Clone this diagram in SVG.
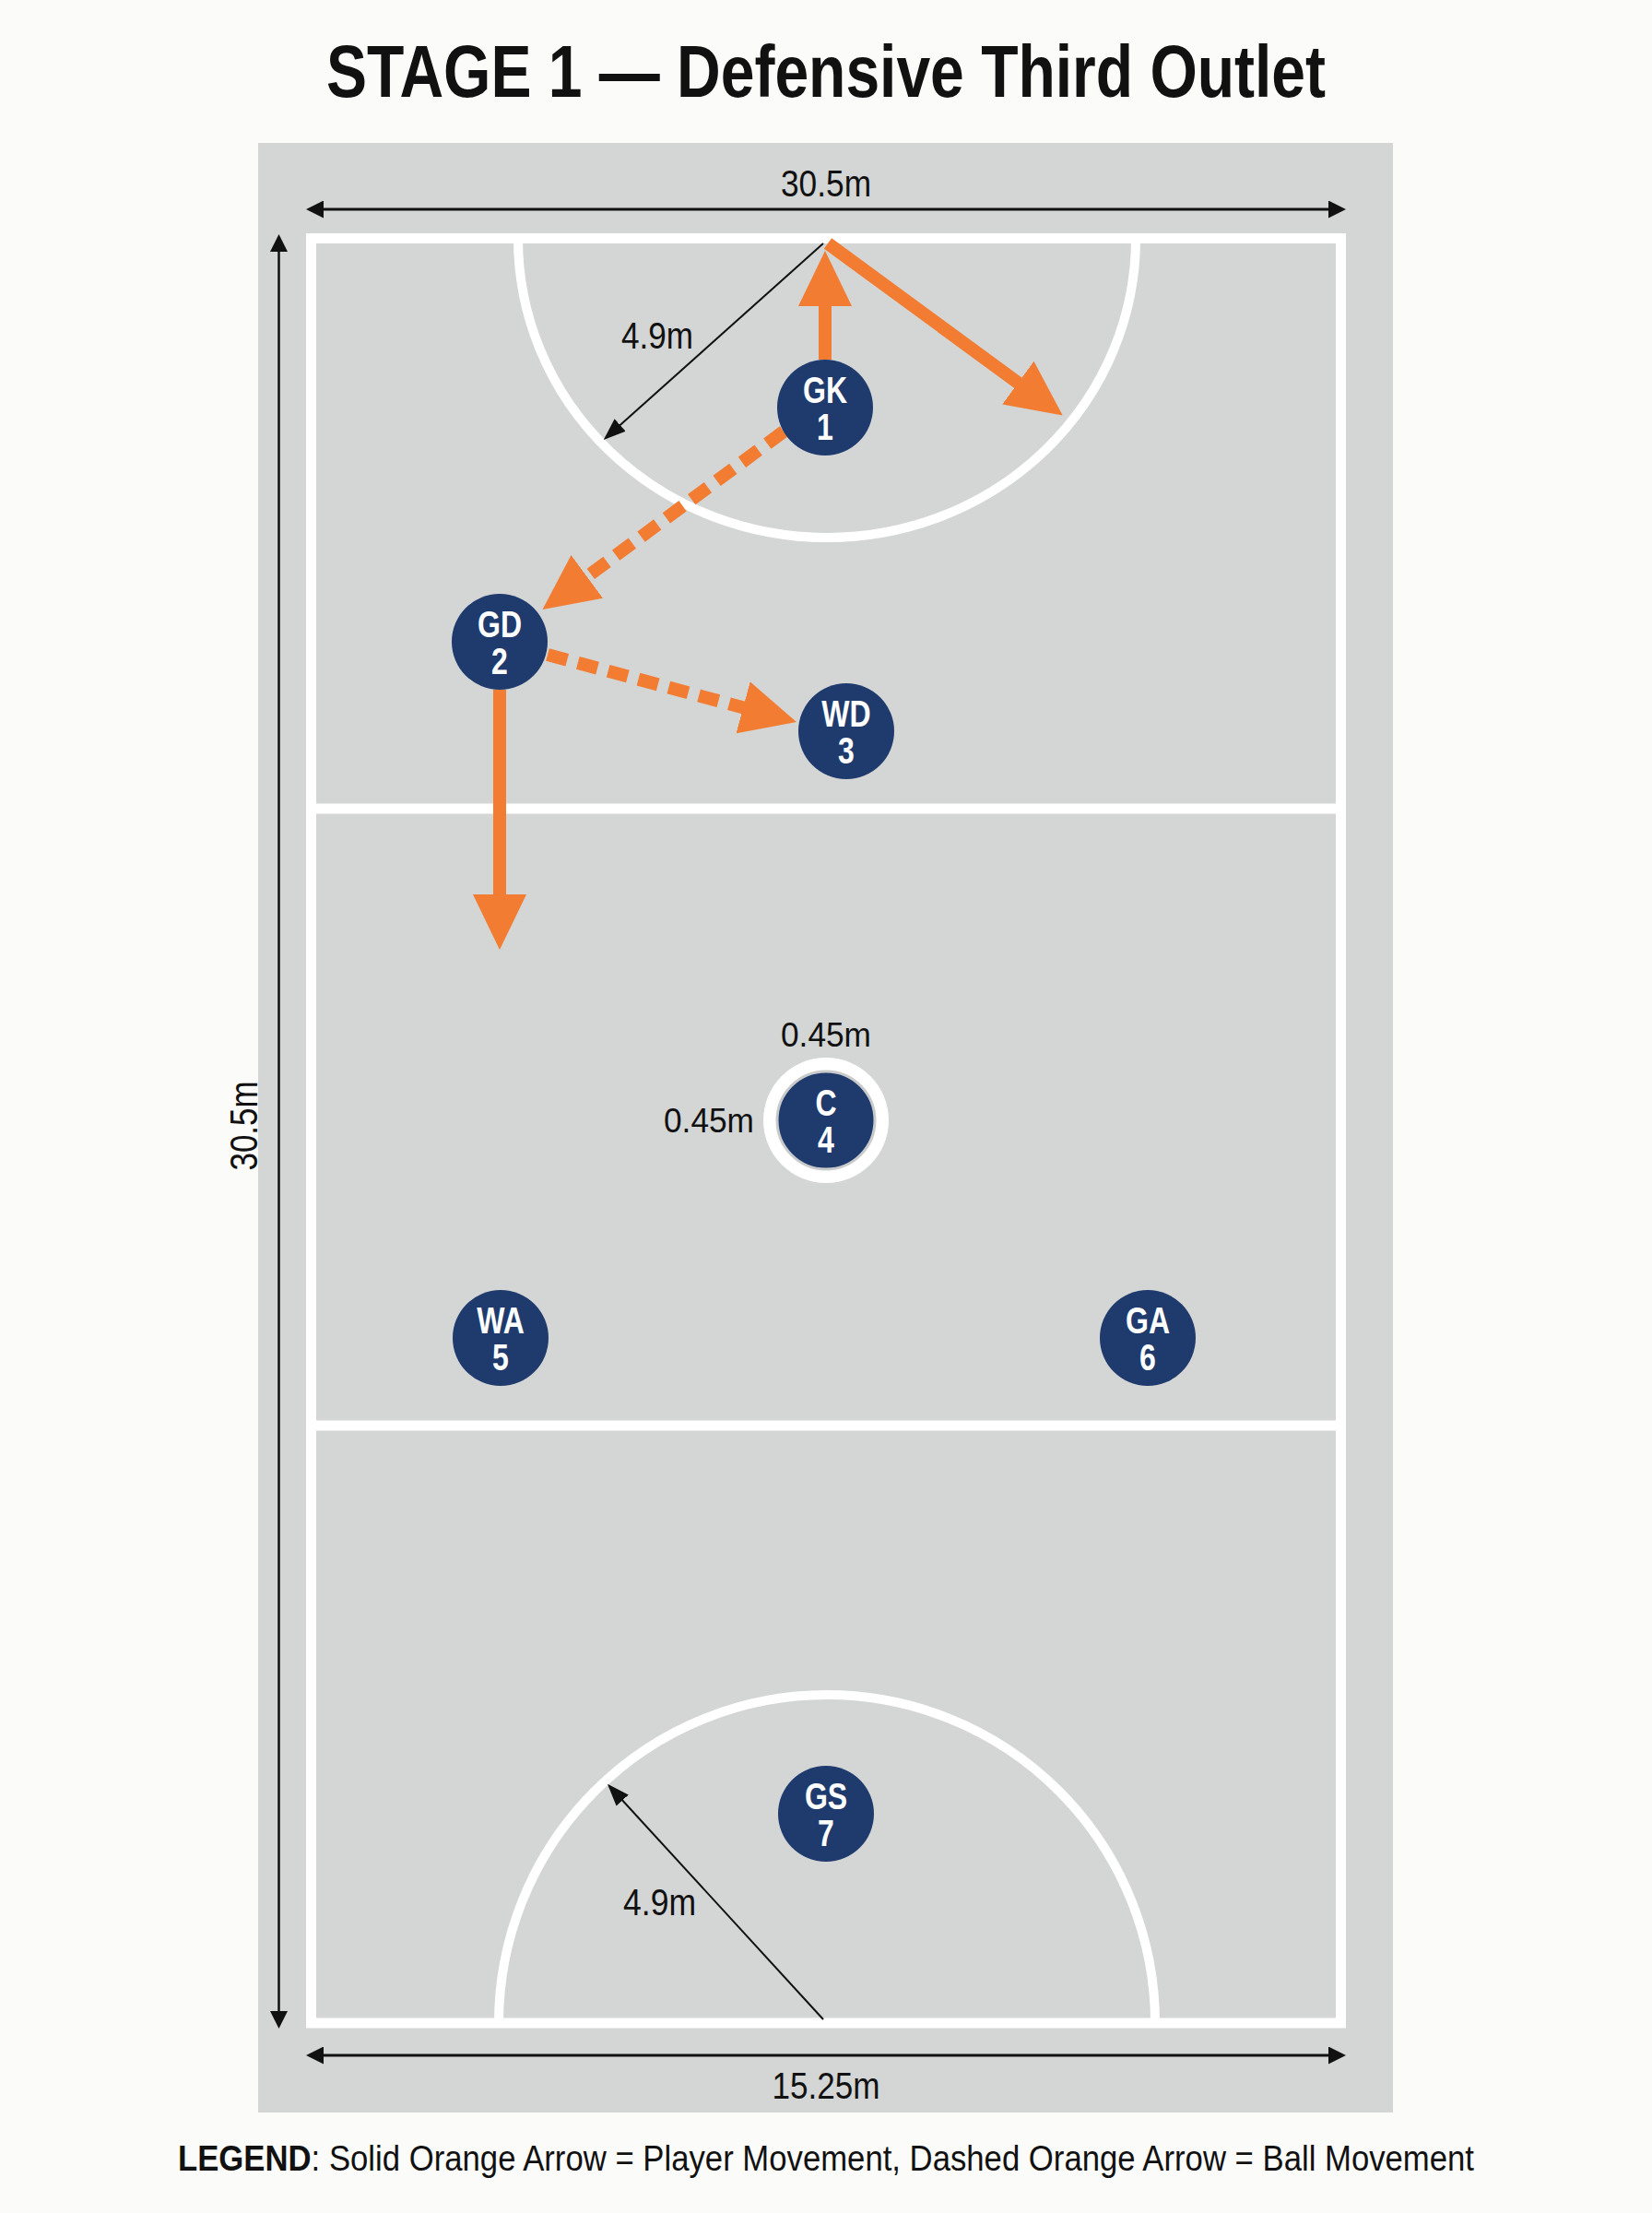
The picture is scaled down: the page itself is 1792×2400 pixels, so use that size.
<svg xmlns="http://www.w3.org/2000/svg" width="1792" height="2400" viewBox="0 0 1792 2400">
<defs>
<style>
.bg{fill:#fbfbf9}
.panel{fill:#d4d5d5}
.court{fill:none;stroke:#ffffff;stroke-width:11}
.arc{fill:none;stroke:#ffffff;stroke-width:10}
.dim{stroke:#111;stroke-width:3;fill:none}
.dimv{stroke:#111;stroke-width:2.5;fill:none}
.rad{stroke:#111;stroke-width:2;fill:none}
.move{stroke:#f27c31;stroke-width:14;fill:none}
.ball{stroke:#f27c31;stroke-width:14;fill:none;stroke-dasharray:22 12}
.player{fill:#1f3b6d}
.ptxt{font-family:"Liberation Sans",Arial,sans-serif;font-weight:bold;font-size:40px;fill:#ffffff;text-anchor:middle}
.lbl{font-family:"Liberation Sans",Arial,sans-serif;font-size:40px;fill:#111}
.title{font-family:"Liberation Sans",Arial,sans-serif;font-weight:bold;font-size:80px;fill:#111}
.legend{font-family:"Liberation Sans",Arial,sans-serif;font-size:38px;fill:#111}
</style>
<marker id="oh" markerUnits="userSpaceOnUse" markerWidth="60" markerHeight="58" refX="40" refY="29" orient="auto" viewBox="0 0 60 58">
<path d="M0,0 L60,29 L0,58 Z" fill="#f27c31"/>
</marker>
<marker id="dh" markerUnits="userSpaceOnUse" markerWidth="19" markerHeight="19" refX="15" refY="9.5" orient="auto-start-reverse" viewBox="0 0 19 19">
<path d="M0,0 L19,9.5 L0,19 Z" fill="#111"/>
</marker>
<marker id="rh" markerUnits="userSpaceOnUse" markerWidth="24" markerHeight="18" refX="21" refY="9" orient="auto" viewBox="0 0 24 18">
<path d="M0,0 L24,9 L0,18 Z" fill="#111"/>
</marker>
</defs>
<rect class="bg" x="0" y="0" width="1792" height="2400"/>
<text class="title" x="354" y="105" textLength="1084" lengthAdjust="spacingAndGlyphs">STAGE 1 — Defensive Third Outlet</text>
<rect class="panel" x="280" y="155" width="1231" height="2136"/>
<g id="court">
<rect class="court" x="337.5" y="258.5" width="1117" height="1935.5"/>
<line class="court" x1="337.5" y1="877" x2="1454.5" y2="877"/>
<line class="court" x1="337.5" y1="1546" x2="1454.5" y2="1546"/>
<path class="arc" d="M562,259 A335,324 0 0 0 1232,259"/>
<path class="arc" d="M541,2194 A356,356 0 0 1 1253,2194"/>
</g>
<g id="dimensions">
<line class="dim" x1="336" y1="227" x2="1456" y2="227" marker-start="url(#dh)" marker-end="url(#dh)"/>
<text class="lbl" x="896" y="213" text-anchor="middle" textLength="98" lengthAdjust="spacingAndGlyphs">30.5m</text>
<line class="dimv" x1="302.5" y1="258" x2="302.5" y2="2196" marker-start="url(#dh)" marker-end="url(#dh)"/>
<text class="lbl" transform="translate(279,1221) rotate(-90)" x="0" y="0" text-anchor="middle" style="font-size:43px" textLength="97" lengthAdjust="spacingAndGlyphs">30.5m</text>
<line class="dim" x1="336" y1="2229" x2="1456" y2="2229" marker-start="url(#dh)" marker-end="url(#dh)"/>
<text class="lbl" x="896" y="2276" text-anchor="middle" textLength="117" lengthAdjust="spacingAndGlyphs">15.25m</text>
<line class="rad" x1="893" y1="264" x2="657" y2="475" marker-end="url(#rh)"/>
<text class="lbl" x="674" y="378" textLength="78" lengthAdjust="spacingAndGlyphs">4.9m</text>
<line class="rad" x1="893" y1="2190" x2="661" y2="1937" marker-end="url(#rh)"/>
<text class="lbl" x="676" y="2077" textLength="79" lengthAdjust="spacingAndGlyphs">4.9m</text>
<text class="lbl" x="896" y="1135" text-anchor="middle" style="font-size:37px" textLength="98" lengthAdjust="spacingAndGlyphs">0.45m</text>
<text class="lbl" x="720" y="1228" style="font-size:37px" textLength="98" lengthAdjust="spacingAndGlyphs">0.45m</text>
</g>
<g id="connectors">
<line class="move" x1="895" y1="390" x2="895" y2="292" marker-end="url(#oh)"/>
<line class="move" x1="898" y1="264" x2="1136.6" y2="438.8" marker-end="url(#oh)"/>
<line class="ball" x1="850" y1="468" x2="604.6" y2="649.1" marker-end="url(#oh)"/>
<line class="ball" x1="594" y1="710" x2="844.7" y2="777.8" marker-end="url(#oh)"/>
<line class="move" x1="542" y1="748" x2="542" y2="1010" marker-end="url(#oh)"/>
</g>
<g id="player-GK">
<circle class="player" cx="895" cy="442" r="52"/>
<g transform="translate(895,442) scale(0.8,1)"><text class="ptxt" x="0" y="-5">GK<tspan x="0" dy="40">1</tspan></text></g>
</g>
<g id="player-GD">
<circle class="player" cx="542" cy="696" r="52"/>
<g transform="translate(542,696) scale(0.8,1)"><text class="ptxt" x="0" y="-5">GD<tspan x="0" dy="40">2</tspan></text></g>
</g>
<g id="player-WD">
<circle class="player" cx="918" cy="793" r="52"/>
<g transform="translate(918,793) scale(0.8,1)"><text class="ptxt" x="0" y="-5">WD<tspan x="0" dy="40">3</tspan></text></g>
</g>
<g id="player-C">
<circle cx="896" cy="1215" r="68" fill="#ffffff"/>
<circle class="player" cx="896" cy="1215" r="53" stroke="#c9cacb" stroke-width="3"/>
<g transform="translate(896,1215) scale(0.8,1)"><text class="ptxt" x="0" y="-5">C<tspan x="0" dy="40">4</tspan></text></g>
</g>
<g id="player-WA">
<circle class="player" cx="543" cy="1451" r="52"/>
<g transform="translate(543,1451) scale(0.8,1)"><text class="ptxt" x="0" y="-5">WA<tspan x="0" dy="40">5</tspan></text></g>
</g>
<g id="player-GA">
<circle class="player" cx="1245" cy="1451" r="52"/>
<g transform="translate(1245,1451) scale(0.8,1)"><text class="ptxt" x="0" y="-5">GA<tspan x="0" dy="40">6</tspan></text></g>
</g>
<g id="player-GS">
<circle class="player" cx="896" cy="1967" r="52"/>
<g transform="translate(896,1967) scale(0.8,1)"><text class="ptxt" x="0" y="-5">GS<tspan x="0" dy="40">7</tspan></text></g>
</g>
<text class="legend" x="193" y="2354" textLength="1406" lengthAdjust="spacingAndGlyphs"><tspan font-weight="bold">LEGEND</tspan>: Solid Orange Arrow = Player Movement, Dashed Orange Arrow = Ball Movement</text>
</svg>
